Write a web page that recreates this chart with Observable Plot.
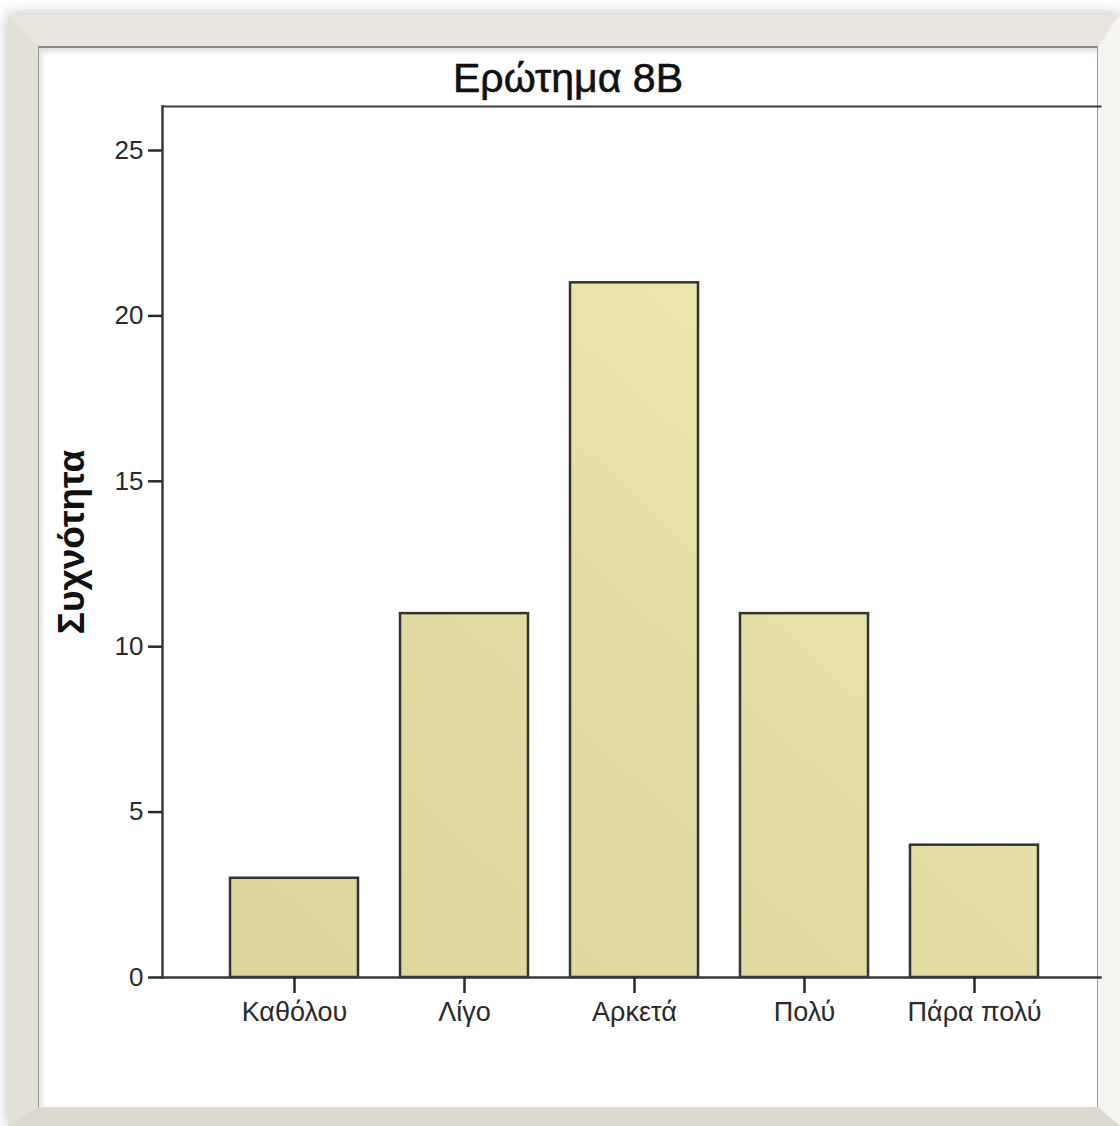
<!DOCTYPE html>
<html>
<head>
<meta charset="utf-8">
<script src="https://cdn.jsdelivr.net/npm/d3@7"></script>
<script src="https://cdn.jsdelivr.net/npm/@observablehq/plot@0.6"></script>
<style>
  html, body { margin: 0; padding: 0; background: #ffffff; }
  #stage { position: relative; width: 1120px; height: 1126px; overflow: hidden; background: #ffffff; }
  #outer {
    position: absolute; left: 8px; top: 15px; width: 1112px; height: 1111px;
    box-sizing: border-box;
    background: #e6e3dc;
    border-top: 31px solid #e9e6df;
    border-left: 30px solid #e2dfd7;
    border-right: 22px solid #f6f4ee;
    border-bottom: 19px solid #dcd9d1;
    box-shadow: 0 0 14px rgba(0,0,0,0.28);
  }
  #panel {
    position: absolute; left: 0; top: 0; right: 0; bottom: 0;
    background: #ffffff;
    border-top: 2px solid #8a8a8a;
    border-left: 1px solid #9a9a9a;
    border-right: 1px solid #a0a0a0;
    box-shadow: inset 3px 4px 5px rgba(0,0,0,0.12);
  }
  #title {
    position: absolute; left: 38px; width: 1060px; top: 54px;
    text-align: center; font-family: "Liberation Sans", Arial, sans-serif;
    font-size: 41px; color: #111111; line-height: 48px;
    -webkit-text-stroke: 0.6px #111111;
  }
  #chart { position: absolute; left: 0; top: 0; }
</style>
</head>
<body>
<div id="stage">
  <div id="outer"><div id="panel"></div></div>
  <div id="title">Ερώτημα 8Β</div>
  <div id="chart"></div>
</div>
<script>
const categories = ["Καθόλου", "Λίγο", "Αρκετά", "Πολύ", "Πάρα πολύ"];
const counts = [3, 11, 21, 11, 4];
const yTicks = [0, 5, 10, 15, 20, 25];
const yMax = 26.33;
const yLabel = "Συχνότητα";

const data = categories.map((c, i) => ({cat: c, n: counts[i]}));

const plot = Plot.plot({
  width: 1120,
  height: 1126,
  marginTop: 106,
  marginBottom: 149,
  marginLeft: 162,
  marginRight: 20,
  style: {background: "transparent", fontFamily: "'Liberation Sans', Arial, sans-serif", color: "#2a2a2a", overflow: "visible"},
  x: {domain: categories, paddingInner: 0.247, paddingOuter: 0.382, align: 0.52, label: null},
  y: {domain: [0, yMax], label: null},
  marks: [
    Plot.barY(data, {x: "cat", y: "n", fill: "url(#barGrad)", stroke: "#333333", strokeWidth: 2.5}),
    Plot.frame({anchor: "top", stroke: "#3a3a3a", strokeWidth: 2}),
    Plot.frame({anchor: "left", stroke: "#3a3a3a", strokeWidth: 2.5}),
    Plot.frame({anchor: "bottom", stroke: "#3a3a3a", strokeWidth: 2.5}),
    Plot.axisY({ticks: yTicks, tickSize: 14, tickPadding: 5, fontSize: 26, label: null, strokeWidth: 2.5}),
    Plot.axisX({tickSize: 16, tickPadding: 8, fontSize: 27, label: null, strokeWidth: 2.5}),
    Plot.text([yLabel], {frameAnchor: "left", textAnchor: "middle", dx: -90, rotate: -90, fontSize: 37, fontWeight: "bold", fill: "#111111"})
  ]
});

// gradient definition for bar fill (spans the plot area)
const ns = "http://www.w3.org/2000/svg";
const defs = document.createElementNS(ns, "defs");
const grad = document.createElementNS(ns, "linearGradient");
grad.setAttribute("id", "barGrad");
grad.setAttribute("gradientUnits", "userSpaceOnUse");
grad.setAttribute("x1", "1000"); grad.setAttribute("y1", "200");
grad.setAttribute("x2", "300"); grad.setAttribute("y2", "977");
[["0", "#f2edb6"], ["0.55", "#e3dda5"], ["1", "#dcd69c"]].forEach(([o, c]) => {
  const s = document.createElementNS(ns, "stop");
  s.setAttribute("offset", o); s.setAttribute("stop-color", c);
  grad.appendChild(s);
});
defs.appendChild(grad);
plot.insertBefore(defs, plot.firstChild);

document.getElementById("chart").appendChild(plot);
</script>
</body>
</html>
